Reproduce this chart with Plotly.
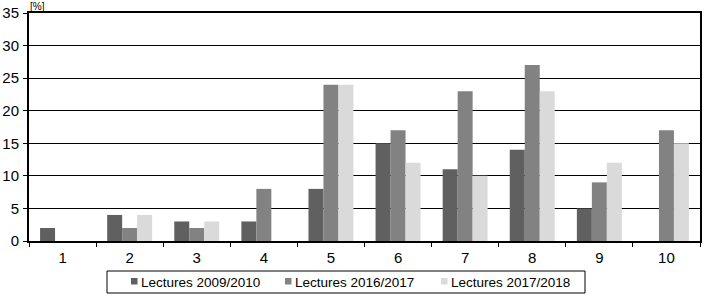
import plotly.graph_objects as go

categories = ["1", "2", "3", "4", "5", "6", "7", "8", "9", "10"]
s2009 = [2, 4, 3, 3, 8, 15, 11, 14, 5, 0]
s2016 = [0, 2, 2, 8, 24, 17, 23, 27, 9, 17]
s2017 = [0, 4, 3, 0, 24, 12, 10, 23, 12, 15]
series_names = ["Lectures 2009/2010", "Lectures 2016/2017", "Lectures 2017/2018"]
colors = ["#606060", "#828282", "#dadada"]
yticks = [0, 5, 10, 15, 20, 25, 30, 35]

W, H = 707, 298
L, R, T, B = 29, 7, 13, 57
pw, ph = W - L - R, H - T - B

def px(x):
    return (x - L) / pw

def py(y):
    return (H - B - y) / ph

fig = go.Figure()
for name, vals, c in zip(series_names, [s2009, s2016, s2017], colors):
    fig.add_trace(go.Bar(x=categories, y=vals, name=name, showlegend=False,
                         marker=dict(color=c, line=dict(width=0))))

font = "Liberation Sans, Arial, sans-serif"
shapes = [dict(type="rect", xref="paper", yref="paper", x0=px(107), x1=px(585), y0=py(293), y1=py(271),
               line=dict(color="black", width=1), fillcolor="rgba(0,0,0,0)")]
annotations = [dict(text="[%]", xref="paper", yref="paper", x=px(29), y=py(0),
                    xanchor="left", yanchor="top", showarrow=False, borderpad=0,
                    font=dict(size=10))]
sym_x = [131, 285, 441]
for name, c, sx in zip(series_names, colors, sym_x):
    shapes.append(dict(type="rect", xref="paper", yref="paper", x0=px(sx), x1=px(sx + 6.5),
                       y0=py(284.5), y1=py(278), line=dict(width=0), fillcolor=c))
    annotations.append(dict(text=name, xref="paper", yref="paper", x=px(sx + 7.5), y=py(282),
                            xanchor="left", yanchor="middle", showarrow=False,
                            font=dict(size=13.5, color="black")))

fig.update_layout(
    width=W, height=H,
    margin=dict(l=L, r=R, t=T, b=B),
    paper_bgcolor="white", plot_bgcolor="white",
    barmode="group", bargap=0.33, bargroupgap=0,
    font=dict(family=font, size=15, color="black"),
    showlegend=False,
    xaxis=dict(type="category", tickson="boundaries", ticks="outside", ticklen=4,
               tickcolor="black", showline=True, linecolor="black", linewidth=2,
               mirror=True, showgrid=False, tickfont=dict(size=15), ticklabelstandoff=2,
               automargin=False),
    yaxis=dict(range=[0, 35], tickvals=yticks, ticks="outside", ticklen=4, tickcolor="black",
               showline=True, linecolor="black", linewidth=2, mirror=True,
               showgrid=True, gridcolor="black", gridwidth=1, zeroline=False,
               tickfont=dict(size=15), ticklabelstandoff=1, automargin=False),
    shapes=shapes,
    annotations=annotations,
)
fig.write_html("out.html")
